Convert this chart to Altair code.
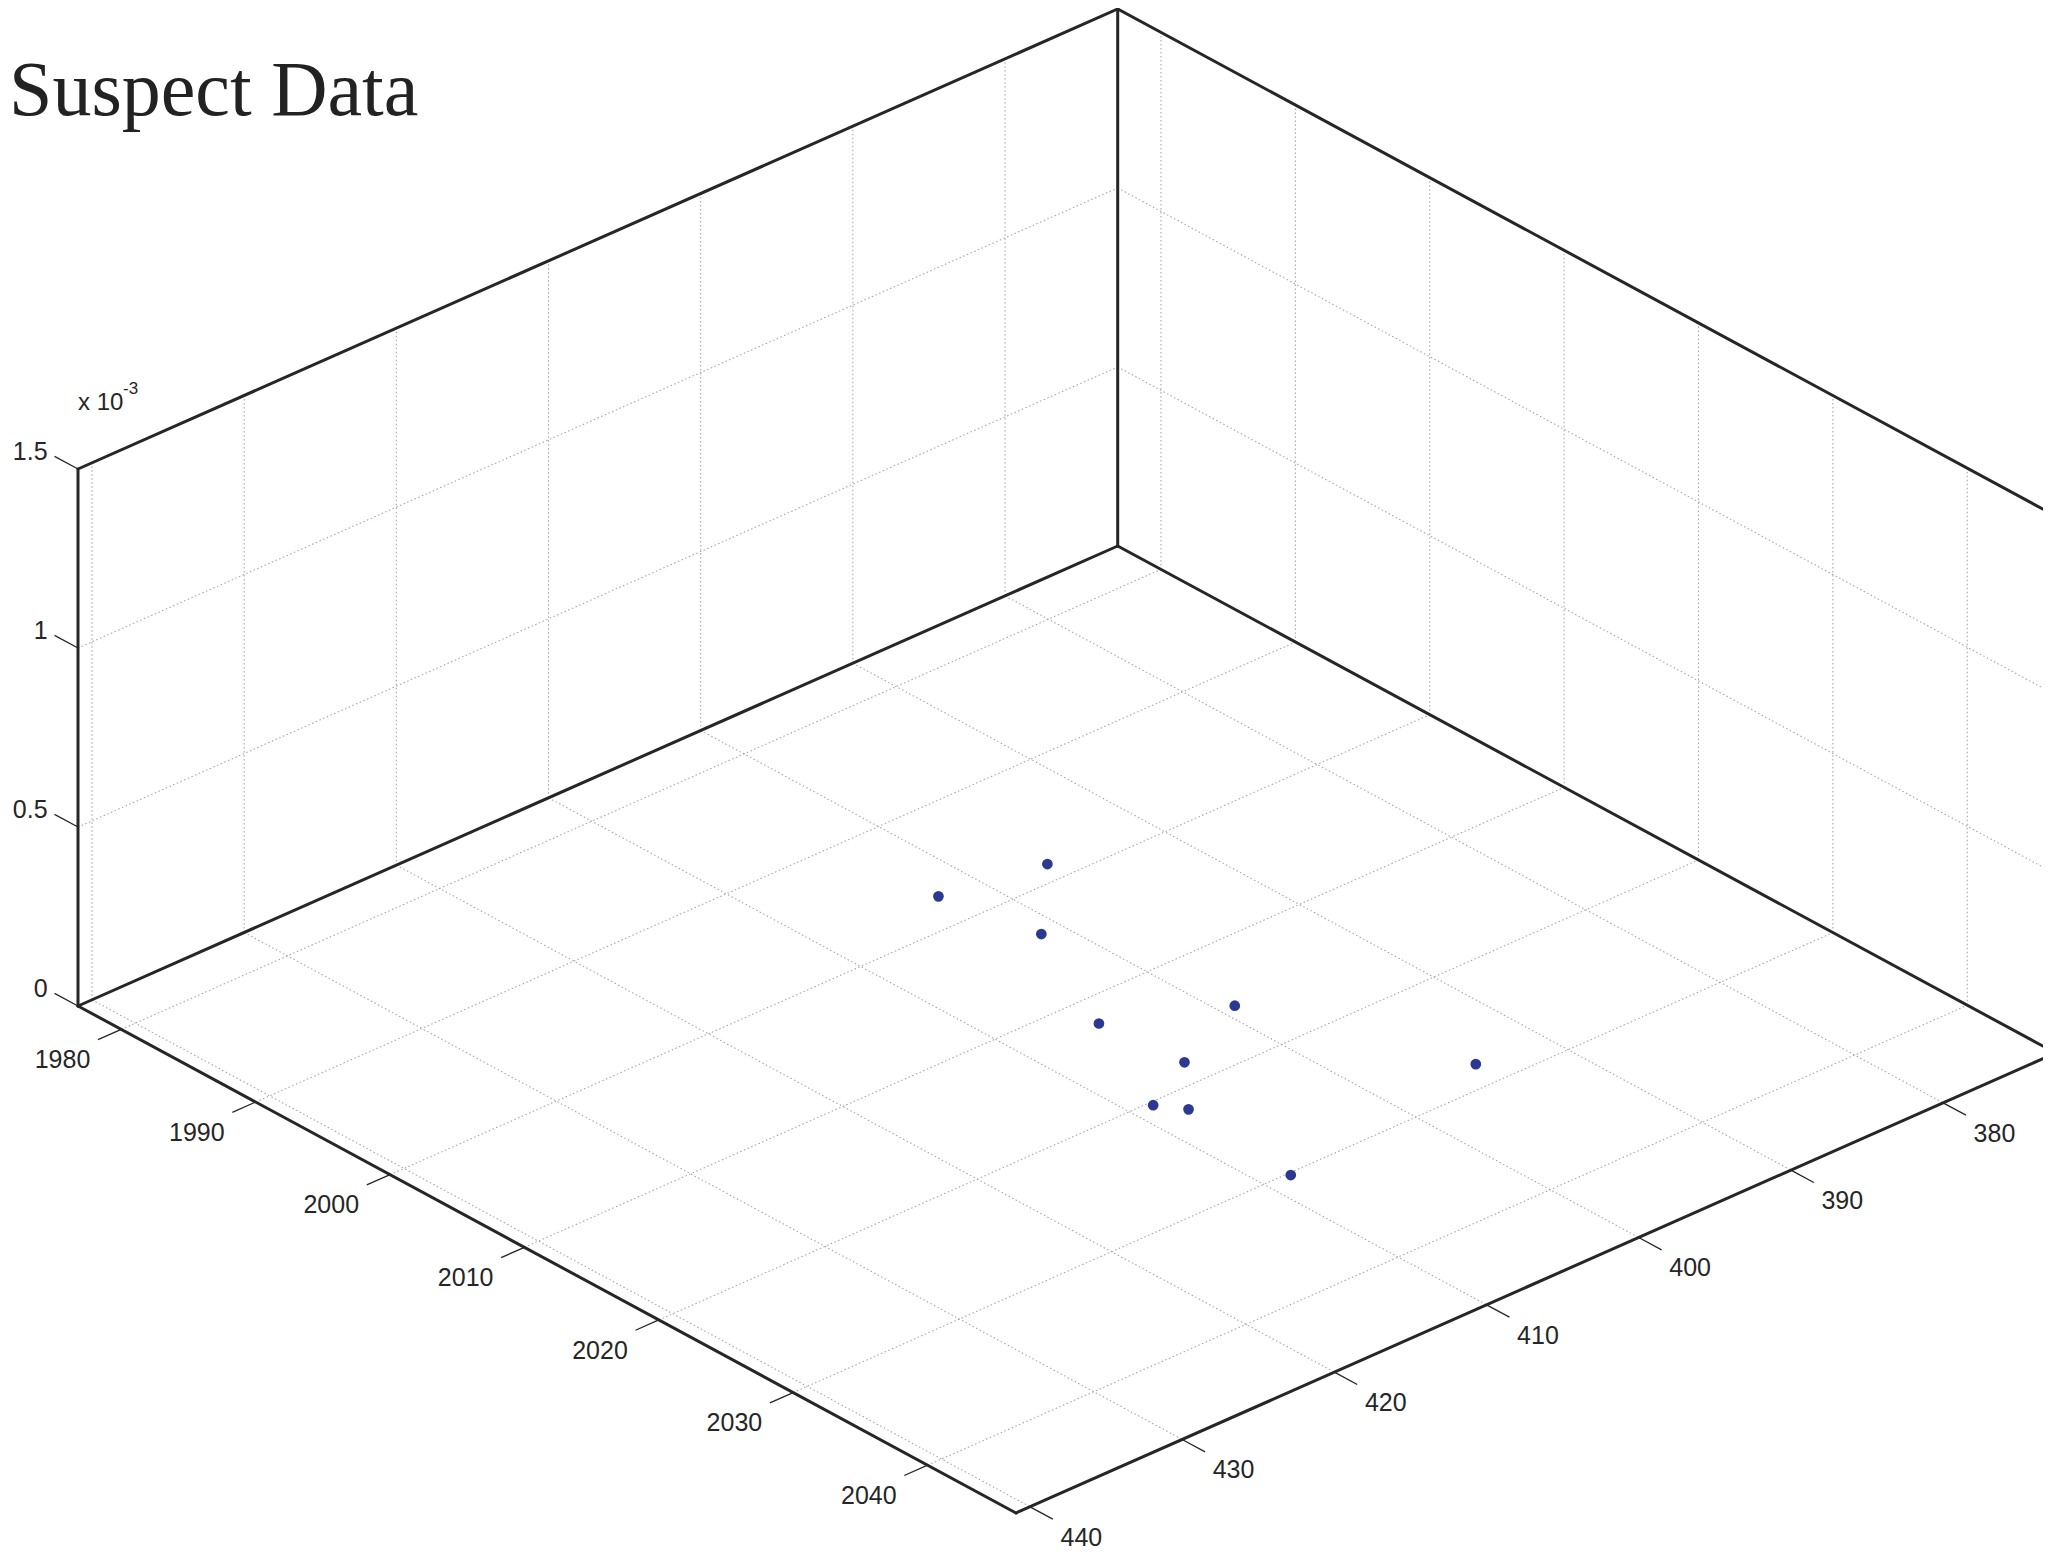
import altair as alt
import pandas as pd

# ---------------- data ----------------
title_text = "Suspect Data"
point_years = [1998.5, 1997.3, 2003.6, 2015.5, 2012.3, 2018.1, 2028.0, 2020.3, 2021.8, 2030.2]
point_levels = [396.4, 402.5, 401.3, 399.1, 405.2, 404.7, 394.3, 408.7, 407.7, 408.4]
point_z = [0, 0, 0, 0, 0, 0, 0, 0, 0, 0]

year_ticks = [1980, 1990, 2000, 2010, 2020, 2030, 2040]
level_ticks = [380, 390, 400, 410, 420, 430, 440]
z_ticks = [0, 0.0005, 0.001, 0.0015]
z_tick_labels = ["0", "0.5", "1", "1.5"]
z_grid = [0.0005, 0.001]
year_lim = [1976.78, 2046.58]
level_lim = [372.6, 440.92]
z_lim = [0, 0.0015]
exp_base = "x 10"
exp_power = "-3"

# ---------------- view (projection of the 3-D box) ----------------
W, H = 2035, 1549
OX, OY = 78.0, 1006.0           # screen position of (year_min, level_max, 0)
EY = (938.0, 507.0)             # full year range
EV = (1039.7, -460.0)           # full level range (max -> min)
EZ = (0.0, -537.0)              # full z range

Y0, Y1 = year_lim
V1, V0 = level_lim
Z0, Z1 = z_lim


def proj(yr, lv, z):
    a = (yr - Y0) / (Y1 - Y0)
    b = (V0 - lv) / (V0 - V1)
    c = (z - Z0) / (Z1 - Z0)
    return (OX + a * EY[0] + b * EV[0] + c * EZ[0],
            OY + a * EY[1] + b * EV[1] + c * EZ[1])


def seg(p, q):
    x, y = proj(*p)
    x2, y2 = proj(*q)
    return {"x": x, "y": y, "x2": x2, "y2": y2}


edges = pd.DataFrame([
    seg((Y0, V0, Z0), (Y1, V0, Z0)),
    seg((Y1, V0, Z0), (Y1, V1, Z0)),
    seg((Y0, V0, Z0), (Y0, V0, Z1)),
    seg((Y0, V0, Z1), (Y0, V1, Z1)),
    seg((Y0, V1, Z1), (Y1, V1, Z1)),
    seg((Y0, V1, Z0), (Y0, V1, Z1)),
    seg((Y0, V0, Z0), (Y0, V1, Z0)),
    seg((Y0, V1, Z0), (Y1, V1, Z0)),
    seg((Y1, V1, Z0), (Y1, V1, Z1)),
])

grid_rows = []
for yr in year_ticks:
    grid_rows.append(seg((yr, V0, Z0), (yr, V1, Z0)))
    grid_rows.append(seg((yr, V1, Z0), (yr, V1, Z1)))
for lv in level_ticks:
    grid_rows.append(seg((Y0, lv, Z0), (Y1, lv, Z0)))
    grid_rows.append(seg((Y0, lv, Z0), (Y0, lv, Z1)))
for zz in z_grid:
    grid_rows.append(seg((Y0, V0, zz), (Y0, V1, zz)))
    grid_rows.append(seg((Y0, V1, zz), (Y1, V1, zz)))
grid = pd.DataFrame(grid_rows)

tick_rows, year_lab, level_lab, z_lab = [], [], [], []
for yr in year_ticks:
    end = (yr, V0 + 0.0224 * (V0 - V1), Z0)
    tick_rows.append(seg((yr, V0, Z0), end))
    tx, ty = proj(*end)
    year_lab.append({"x": tx - 35.5, "y": ty + 20.5, "t": str(yr)})
for lv in level_ticks:
    end = (Y1 + 0.0244 * (Y1 - Y0), lv, Z0)
    tick_rows.append(seg((Y1, lv, Z0), end))
    tx, ty = proj(*end)
    level_lab.append({"x": tx + 28.5, "y": ty + 18.5, "t": str(lv)})
for zz, lab in zip(z_ticks, z_tick_labels):
    end = (Y0 - 0.025 * (Y1 - Y0), V0, zz)
    tick_rows.append(seg((Y0, V0, zz), end))
    tx, ty = proj(*end)
    z_lab.append({"x": tx - 7, "y": ty - 4, "t": lab})
ticks = pd.DataFrame(tick_rows)

pts = pd.DataFrame([dict(zip(("x", "y"), proj(a, b, c)))
                    for a, b, c in zip(point_years, point_levels, point_z)])

tx0, ty0 = proj(Y0, V0, Z1)
exp_df = pd.DataFrame([{"x": tx0, "y": ty0 - 66, "t": exp_base}])
pow_df = pd.DataFrame([{"x": tx0 + 45, "y": ty0 - 80, "t": exp_power}])
title_df = pd.DataFrame([{"x": 9, "y": 115, "t": title_text}])

# ---------------- chart ----------------
xs = alt.Scale(domain=[8, 8 + W], nice=False, zero=False)
ys = alt.Scale(domain=[8 + H, 8], nice=False, zero=False)
X = lambda f="x": alt.X(f + ":Q", scale=xs, axis=None)
Y = lambda f="y": alt.Y(f + ":Q", scale=ys, axis=None)

grid_layer = alt.Chart(grid).mark_rule(
    color="#a6a6a6", strokeWidth=1.1, strokeDash=[1.5, 2.5]
).encode(x=X(), y=Y(), x2="x2:Q", y2="y2:Q")

edge_layer = alt.Chart(edges).mark_rule(
    color="#262626", strokeWidth=3, strokeCap="round"
).encode(x=X(), y=Y(), x2="x2:Q", y2="y2:Q")

tick_layer = alt.Chart(ticks).mark_rule(
    color="#262626", strokeWidth=1.3
).encode(x=X(), y=Y(), x2="x2:Q", y2="y2:Q")

pt_layer = alt.Chart(pts).mark_circle(
    size=115, color="#2B3990", opacity=1
).encode(x=X(), y=Y())

font = "Liberation Sans"
year_text = alt.Chart(pd.DataFrame(year_lab)).mark_text(
    font=font, fontSize=25, color="#262626", align="center", baseline="middle"
).encode(x=X(), y=Y(), text="t:N")
level_text = alt.Chart(pd.DataFrame(level_lab)).mark_text(
    font=font, fontSize=25, color="#262626", align="center", baseline="middle"
).encode(x=X(), y=Y(), text="t:N")
z_text = alt.Chart(pd.DataFrame(z_lab)).mark_text(
    font=font, fontSize=25, color="#262626", align="right", baseline="middle"
).encode(x=X(), y=Y(), text="t:N")
exp_text = alt.Chart(exp_df).mark_text(
    font=font, fontSize=24, color="#262626", align="left", baseline="middle"
).encode(x=X(), y=Y(), text="t:N")
pow_text = alt.Chart(pow_df).mark_text(
    font=font, fontSize=17, color="#262626", align="left", baseline="middle"
).encode(x=X(), y=Y(), text="t:N")
title_layer = alt.Chart(title_df).mark_text(
    font="Liberation Serif", fontSize=78, color="#222222", align="left",
    baseline="alphabetic"
).encode(x=X(), y=Y(), text="t:N")

chart = alt.layer(
    grid_layer, edge_layer, tick_layer, pt_layer,
    year_text, level_text, z_text, exp_text, pow_text, title_layer
).properties(
    width=W, height=H, autosize=alt.AutoSizeParams(type="none"), padding=0
).configure_view(stroke="transparent")

chart.save("out.html", embed_options={"renderer": "svg", "actions": False})
